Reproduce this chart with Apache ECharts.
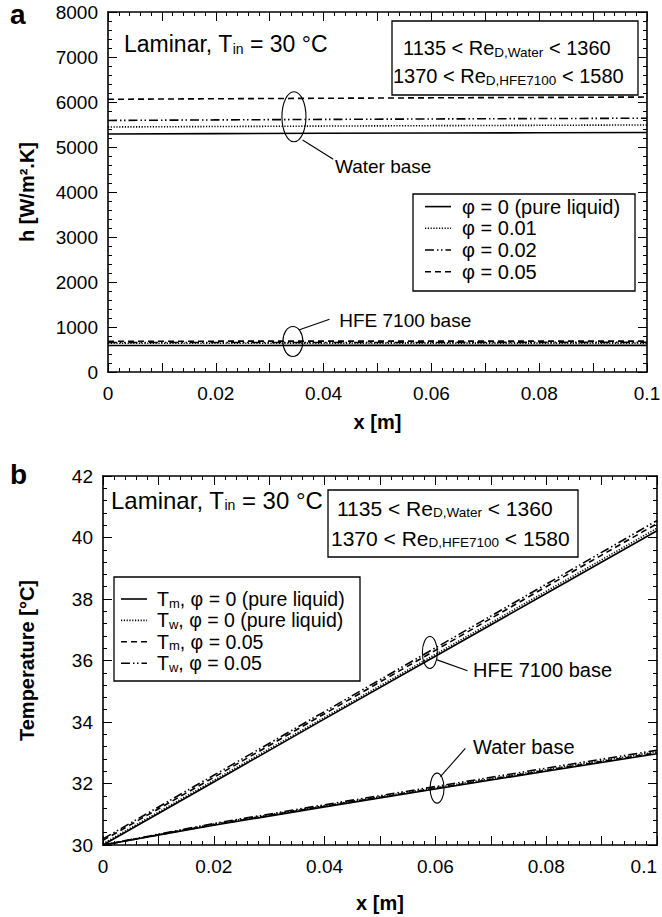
<!DOCTYPE html>
<html>
<head>
<meta charset="utf-8">
<script src="https://cdn.jsdelivr.net/npm/echarts@6/dist/echarts.min.js"></script>
<style>
  html, body { margin: 0; padding: 0; background: #fff; }
  #chart { width: 662px; height: 917px; }
</style>
</head>
<body>
<div id="chart"></div>
<script>
// x positions along the tube [m]
const xPos = [0, 0.02, 0.04, 0.06, 0.08, 0.1]

// panel a: heat transfer coefficient h [W/m2.K]
const hWater0 = [5290, 5298, 5305, 5310, 5316, 5322]
const hWater01 = [5445, 5455, 5465, 5474, 5482, 5490]
const hWater02 = [5590, 5602, 5613, 5623, 5632, 5640]
const hWater05 = [6060, 6072, 6083, 6093, 6102, 6110]
const hHfe0 = [590, 590, 591, 591, 592, 592]
const hHfe01 = [640, 640, 641, 641, 642, 642]
const hHfe02 = [656, 656, 657, 657, 658, 658]
const hHfe05 = [685, 685, 686, 686, 687, 687]

// panel b: temperatures [°C]
const tmHfe0 = [30.0, 32.05, 34.1, 36.14, 38.18, 40.22]
const twHfe0 = [30.04, 32.1, 34.15, 36.2, 38.25, 40.3]
const tmHfe05 = [30.15, 32.2, 34.27, 36.33, 38.4, 40.45]
const twHfe05 = [30.2, 32.27, 34.34, 36.41, 38.48, 40.55]
const tmWater0 = [30.0, 30.64, 31.24, 31.82, 32.4, 32.97]
const twWater0 = [30.0, 30.68, 31.28, 31.86, 32.45, 33.03]
const tmWater05 = [30.0, 30.66, 31.26, 31.84, 32.43, 33.0]
const twWater05 = [30.0, 30.7, 31.31, 31.9, 32.5, 33.08]

// legend texts
const phiNames = ['φ = 0 (pure liquid)', 'φ = 0.01', 'φ = 0.02', 'φ = 0.05']
const tNames = [
  '{a|T}{s|m}{a|, φ = 0 (pure liquid)}',
  '{a|T}{s|w}{a|, φ = 0 (pure liquid)}',
  '{a|T}{s|m}{a|, φ = 0.05}',
  '{a|T}{s|w}{a|, φ = 0.05}'
]

const FONT = 'Liberation Sans, Arial, Helvetica, sans-serif'

// line dash styles
const DOT = [1.2, 1.6]
const DASH = [6, 4]
const DASHDOTDOT = [9, 3, 1.5, 2.5, 1.5, 3]
const phiDash = ['solid', DOT, DASHDOTDOT, DASH]
const tDash = ['solid', DOT, DASH, DASHDOTDOT]

const pairs = (ys) => xPos.map((x, i) => [x, ys[i]])

const mkLine = (name, ys, dash, axis) => ({
  name,
  type: 'line',
  xAxisIndex: axis,
  yAxisIndex: axis,
  data: pairs(ys),
  showSymbol: false,
  symbol: 'none',
  silent: true,
  lineStyle: { color: '#000', width: 1.6, type: dash }
})

const axisBase = (opts) => ({
  type: 'value',
  axisLine: { show: true, onZero: false, lineStyle: { color: '#000', width: 1.6 } },
  axisTick: { show: true, inside: true, length: 9, lineStyle: { color: '#000', width: 1 } },
  minorTick: { show: true, splitNumber: 5, length: 4, lineStyle: { color: '#000', width: 1 } },
  splitLine: { show: false },
  axisLabel: { color: '#000', fontSize: 19, fontFamily: FONT, margin: 10, formatter: (v) => String(v) },
  nameTextStyle: { color: '#000', fontSize: 20, fontWeight: 'bold', fontFamily: FONT },
  ...opts
})

const xFmt = (v) => (Math.round(v * 100) % 2 === 0 ? String(+v.toFixed(2)) : '')
const xLabel = { color: '#000', fontSize: 19, fontFamily: FONT, margin: 12, formatter: xFmt, showMaxLabel: true, showMinLabel: true }

const option = {
  animation: false,
  backgroundColor: '#fff',
  grid: [
    { left: 108, top: 12, width: 539, height: 360, containLabel: false, outerBoundsMode: 'none' },
    { left: 103, top: 476, width: 554, height: 369, containLabel: false, outerBoundsMode: 'none' }
  ],
  xAxis: [
    axisBase({ gridIndex: 0, min: 0, max: 0.1, interval: 0.01, name: 'x [m]', nameLocation: 'middle', nameGap: 40, axisLabel: xLabel }),
    axisBase({ gridIndex: 0, min: 0, max: 0.1, interval: 0.01, position: 'top', axisLabel: { show: false } }),
    axisBase({ gridIndex: 1, min: 0, max: 0.1, interval: 0.01, name: 'x [m]', nameLocation: 'middle', nameGap: 48, axisLabel: { ...xLabel, alignMaxLabel: 'right' } }),
    axisBase({ gridIndex: 1, min: 0, max: 0.1, interval: 0.01, position: 'top', axisLabel: { show: false } })
  ],
  yAxis: [
    axisBase({ gridIndex: 0, min: 0, max: 8000, interval: 1000, name: 'h [W/m².K]', nameLocation: 'middle', nameGap: 71 }),
    axisBase({ gridIndex: 0, min: 0, max: 8000, interval: 1000, position: 'right', axisLabel: { show: false } }),
    axisBase({ gridIndex: 1, min: 30, max: 42, interval: 2, name: 'Temperature [°C]', nameLocation: 'middle', nameGap: 66 }),
    axisBase({ gridIndex: 1, min: 30, max: 42, interval: 2, position: 'right', axisLabel: { show: false } })
  ],
  series: [
    mkLine(phiNames[0], hWater0, phiDash[0], 0),
    mkLine(phiNames[1], hWater01, phiDash[1], 0),
    mkLine(phiNames[2], hWater02, phiDash[2], 0),
    mkLine(phiNames[3], hWater05, phiDash[3], 0),
    mkLine(phiNames[0], hHfe0, phiDash[0], 0),
    mkLine(phiNames[1], hHfe01, phiDash[1], 0),
    mkLine(phiNames[2], hHfe02, phiDash[2], 0),
    mkLine(phiNames[3], hHfe05, phiDash[3], 0),
    mkLine('Tm, φ = 0', tmHfe0, tDash[0], 2),
    mkLine('Tw, φ = 0', twHfe0, tDash[1], 2),
    mkLine('Tm, φ = 0.05', tmHfe05, tDash[2], 2),
    mkLine('Tw, φ = 0.05', twHfe05, tDash[3], 2),
    mkLine('Tm, φ = 0', tmWater0, tDash[0], 2),
    mkLine('Tw, φ = 0', twWater0, tDash[1], 2),
    mkLine('Tm, φ = 0.05', tmWater05, tDash[2], 2),
    mkLine('Tw, φ = 0.05', twWater05, tDash[3], 2)
  ]
}

const chart = echarts.init(document.getElementById('chart'), null, { renderer: 'svg' })
chart.setOption(option)

// 注释 helpers
const px = (ax, v) => chart.convertToPixel({ xAxisIndex: ax }, v)
const py = (ax, v) => chart.convertToPixel({ yAxisIndex: ax }, v)

const ellipse = (cx, cy, rx, ry) => ({
  type: 'ellipse', shape: { cx, cy, rx, ry }, silent: true,
  style: { fill: 'none', stroke: '#000', lineWidth: 1.1 }
})
const seg = (x1, y1, x2, y2, dash) => ({
  type: 'line', shape: { x1, y1, x2, y2 }, silent: true,
  style: { stroke: '#000', lineWidth: dash ? 1.6 : 1.1, lineDash: dash && dash !== 'solid' ? dash : null }
})
const label = (x, y, text, size) => ({
  type: 'text', x, y, silent: true,
  style: { text, fill: '#000', font: `${size}px ${FONT}`, verticalAlign: 'middle' }
})
const richText = (x, y, text, size, sub) => ({
  type: 'text', x, y, silent: true,
  style: {
    text,
    verticalAlign: 'middle',
    rich: {
      a: { fontSize: size, fontFamily: FONT, fill: '#000' },
      s: { fontSize: sub, fontFamily: FONT, fill: '#000', padding: [Math.round(size * 0.42), 0, 0, 0] }
    }
  }
})
const box = (x, y, width, height) => ({
  type: 'rect', shape: { x, y, width, height }, silent: true,
  style: { fill: '#fff', stroke: '#000', lineWidth: 1.3 }
})

// panel a annotation anchors (data space)
const aW = [px(0, 0.0345), py(0, 5673)]
const aWl = [px(0, 0.0361), py(0, 5156), px(0, 0.0418), py(0, 4726)]
const aWt = [px(0, 0.0421), py(0, 4562)]
const aH = [px(0, 0.0343), py(0, 678)]
const aHl = [px(0, 0.0354), py(0, 933), px(0, 0.0411), py(0, 1171)]
const aHt = [px(0, 0.0429), py(0, 1155)]

// panel b annotation anchors
const bH = [px(2, 0.059), py(2, 36.26)]
const bHl = [px(2, 0.0603), py(2, 36.02), px(2, 0.0658), py(2, 35.67)]
const bHt = [px(2, 0.0668), py(2, 35.69)]
const bW = [px(2, 0.0603), py(2, 31.85)]
const bWl = [px(2, 0.0609), py(2, 32.22), px(2, 0.0654), py(2, 33.14)]
const bWt = [px(2, 0.0668), py(2, 33.18)]

// legend a
const legA = [box(413, 194, 222, 97)]
phiNames.forEach((n, i) => {
  const y = 206.6 + i * 21.7
  legA.push(seg(425, y, 451, y, phiDash[i]))
  legA.push(label(462, y, n, 20))
})

// legend b
const legB = [box(114, 577, 246, 104)]
tNames.forEach((n, i) => {
  const y = 599 + i * 21.4
  legB.push(seg(121, y, 147, y, tDash[i]))
  legB.push(richText(157, y, n, 19.5, 13))
})

chart.setOption({
  graphic: [
    { type: 'text', left: 10, top: 0, style: { text: 'a', fill: '#000', font: `bold 28px ${FONT}` } },
    { type: 'text', left: 10, top: 460, style: { text: 'b', fill: '#000', font: `bold 28px ${FONT}` } },

    richText(124, 44, '{a|Laminar, T}{s|in}{a| = 30 °C}', 23, 14),
    box(392, 21, 246, 74),
    richText(403, 48, '{a|1135 < Re}{s|D,Water}{a| < 1360}', 20, 13.5),
    richText(393, 76, '{a|1370 < Re}{s|D,HFE7100}{a| < 1580}', 20, 13.5),
    ...legA,

    ellipse(aW[0], aW[1], 12, 25),
    seg(aWl[0], aWl[1], aWl[2], aWl[3]),
    label(aWt[0], aWt[1], 'Water base', 19),
    ellipse(aH[0], aH[1], 10, 15),
    seg(aHl[0], aHl[1], aHl[2], aHl[3]),
    label(aHt[0], aHt[1], 'HFE 7100 base', 19),

    richText(111, 500, '{a|Laminar, T}{s|in}{a| = 30 °C}', 24, 14),
    box(328, 490, 250, 67),
    richText(337, 508, '{a|1135 < Re}{s|D,Water}{a| < 1360}', 21, 13.5),
    richText(331, 538, '{a|1370 < Re}{s|D,HFE7100}{a| < 1580}', 21, 13.5),
    ...legB,

    ellipse(bH[0], bH[1], 7.5, 16),
    seg(bHl[0], bHl[1], bHl[2], bHl[3]),
    label(bHt[0], bHt[1], 'HFE 7100 base', 20),
    ellipse(bW[0], bW[1], 7, 15),
    seg(bWl[0], bWl[1], bWl[2], bWl[3]),
    label(bWt[0], bWt[1], 'Water base', 20)
  ]
})
</script>
</body>
</html>
